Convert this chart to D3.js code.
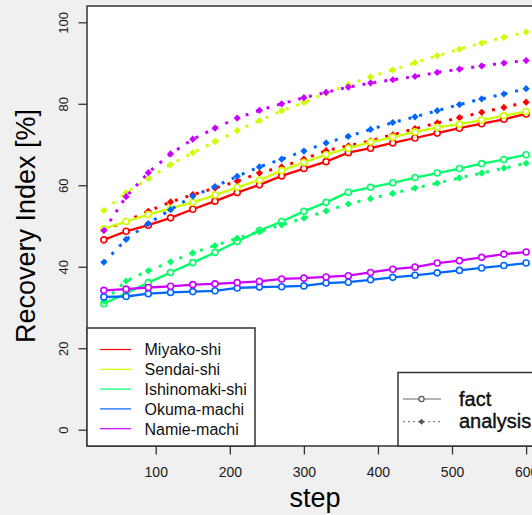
<!DOCTYPE html>
<meta charset="utf-8">
<title>Recovery Index</title>
<style>
body { margin: 0; background: #f0f0f0; }
svg { display: block; font-family: "Liberation Sans", Arial, sans-serif; }
</style>
<body>
<div id="chart"></div>
<script src="https://d3js.org/d3.v7.min.js"></script>
<script>
  var steps = [30, 60, 90, 120, 150, 180, 210, 240, 270, 300,
               330, 360, 390, 420, 450, 480, 510, 540, 570, 600];

  var cities = ["Miyako-shi", "Sendai-shi", "Ishinomaki-shi", "Okuma-machi", "Namie-machi"];
  var colors = ["#FF0000", "#CCFF00", "#00FF66", "#0066FF", "#CC00FF"];

  // fact (solid, open circles)
  var factMiyako     = [46.6, 48.7, 50.2, 52.0, 54.1, 56.1, 58.2, 60.1, 62.3, 64.1, 65.8, 68.0, 69.1, 70.4, 71.6, 72.8, 74.0, 75.1, 76.2, 77.5];
  var factSendai     = [49.3, 51.1, 52.8, 54.3, 55.8, 57.6, 59.5, 61.3, 63.6, 65.6, 67.5, 69.1, 70.6, 71.8, 73.1, 74.2, 75.0, 76.0, 77.1, 78.1];
  var factIshinomaki = [30.9, 33.5, 36.1, 38.6, 41.0, 43.5, 46.2, 48.9, 51.1, 53.6, 55.8, 58.3, 59.5, 60.6, 61.9, 63.0, 64.1, 65.3, 66.3, 67.5];
  var factOkuma      = [32.6, 32.7, 33.4, 33.7, 33.9, 34.1, 34.8, 35.0, 35.1, 35.3, 36.0, 36.2, 36.8, 37.4, 37.9, 38.5, 39.1, 39.7, 40.3, 40.9];
  var factNamie      = [34.2, 34.5, 34.9, 35.2, 35.6, 35.8, 36.1, 36.4, 37.0, 37.2, 37.5, 37.8, 38.6, 39.4, 39.9, 40.9, 41.5, 42.3, 43.1, 43.6];

  // analysis (dotted, filled diamonds)
  var anaMiyako     = [49.0, 51.2, 53.6, 55.9, 57.7, 59.3, 61.0, 63.0, 64.5, 66.4, 68.5, 69.7, 70.9, 72.4, 73.9, 75.3, 76.6, 77.9, 79.1, 80.4];
  var anaSendai     = [53.8, 58.2, 61.6, 65.1, 68.0, 70.7, 73.4, 75.9, 78.3, 80.3, 82.6, 84.7, 86.6, 88.3, 90.1, 91.8, 93.4, 94.9, 96.3, 97.6];
  var anaIshinomaki = [31.5, 36.5, 39.0, 41.2, 43.4, 45.2, 47.0, 48.6, 50.3, 51.9, 53.7, 55.4, 56.7, 58.0, 59.3, 60.5, 61.8, 63.0, 64.2, 65.4];
  var anaOkuma      = [41.1, 46.7, 50.6, 54.0, 57.3, 59.7, 62.2, 64.5, 66.4, 68.4, 70.4, 72.0, 73.7, 75.4, 76.8, 78.3, 79.8, 81.2, 82.4, 83.7];
  var anaNamie      = [48.9, 57.2, 63.1, 67.7, 71.3, 74.0, 76.5, 78.4, 80.0, 81.5, 82.8, 84.1, 85.1, 85.9, 86.7, 87.7, 88.5, 89.3, 90.0, 90.6];

  var xTicks = [100, 200, 300, 400, 500, 600];
  var yTicks = [0, 20, 40, 60, 80, 100];

  var factSeries = [factMiyako, factSendai, factIshinomaki, factOkuma, factNamie];
  var anaSeries = [anaMiyako, anaSendai, anaIshinomaki, anaOkuma, anaNamie];

  var margin = {top: 6, left: 87},
      width = 456,
      height = 440;

  var svg = d3.select("#chart").append("svg")
      .attr("width", 532)
      .attr("height", 515);

  var g = svg.append("g")
      .attr("transform", "translate(" + margin.left + "," + margin.top + ")");

  // R style 4% padding on both axes
  var x = d3.scaleLinear().domain([7.2, 622.8]).range([0, width]);
  var y = d3.scaleLinear().domain([-4, 104]).range([height, 0]);

  g.append("rect")
      .attr("width", width)
      .attr("height", height)
      .attr("fill", "#fff");

  var diamond = "M0,-3.6L3.6,0L0,3.6L-3.6,0Z";
  var smallDiamond = "M0,-3L3,0L0,3L-3,0Z";

  var line = d3.line()
      .x(function(d) { return x(d[0]); })
      .y(function(d) { return y(d[1]); });

  cities.forEach(function(c, i) {
    var fact = steps.map(function(s, j) { return [s, factSeries[i][j]]; });
    var ana = steps.map(function(s, j) { return [s, anaSeries[i][j]]; });

    g.append("path")
        .attr("d", line(fact))
        .attr("fill", "none")
        .attr("stroke", colors[i])
        .attr("stroke-width", 2.3);
    g.selectAll(null).data(fact).enter().append("circle")
        .attr("cx", function(d) { return x(d[0]); })
        .attr("cy", function(d) { return y(d[1]); })
        .attr("r", 3)
        .attr("fill", "#fff")
        .attr("stroke", colors[i])
        .attr("stroke-width", 1.6);

    g.append("path")
        .attr("d", line(ana))
        .attr("fill", "none")
        .attr("stroke", colors[i])
        .attr("stroke-width", 3)
        .attr("stroke-dasharray", "3,8");
    g.selectAll(null).data(ana).enter().append("path")
        .attr("d", diamond)
        .attr("transform", function(d) { return "translate(" + x(d[0]) + "," + y(d[1]) + ")"; })
        .attr("fill", colors[i]);
  });

  // axes
  var xAxis = g.append("g")
      .attr("transform", "translate(0," + height + ")")
      .call(d3.axisBottom(x).tickValues(xTicks).tickSize(8.5).tickSizeOuter(0));
  var yAxis = g.append("g")
      .call(d3.axisLeft(y).tickValues(yTicks).tickSize(8.5).tickSizeOuter(0));

  [xAxis, yAxis].forEach(function(a) {
    a.select(".domain").remove();
    a.selectAll("line").attr("stroke", "#333").attr("stroke-width", 1.3);
    a.selectAll("text").attr("fill", "#1a1a1a").attr("font-family", "Liberation Sans, Arial, sans-serif");
  });
  xAxis.selectAll("text")
      .attr("y", 30.5)
      .attr("dy", 0)
      .attr("font-size", 14);
  yAxis.selectAll("text")
      .attr("transform", "rotate(-90)")
      .attr("x", 0)
      .attr("y", -19.5)
      .attr("dy", 0)
      .attr("font-size", 13)
      .style("text-anchor", "middle");

  // axis titles
  svg.append("text")
      .attr("x", margin.left + width / 2)
      .attr("y", 507)
      .attr("text-anchor", "middle")
      .attr("font-size", 27)
      .attr("fill", "#000")
      .text("step");
  svg.append("text")
      .attr("transform", "translate(35," + (margin.top + height / 2) + ") rotate(-90)")
      .attr("text-anchor", "middle")
      .attr("font-size", 27)
      .attr("fill", "#000")
      .text("Recovery Index [%]");

  // legend: cities
  var leg1 = svg.append("g");
  leg1.append("rect")
      .attr("x", margin.left).attr("y", 328)
      .attr("width", 255 - margin.left).attr("height", margin.top + height - 328)
      .attr("fill", "#fff").attr("stroke", "#333").attr("stroke-width", 1.5);
  cities.forEach(function(c, i) {
    var cy = 349.5 + i * 19.8;
    leg1.append("line")
        .attr("x1", 100).attr("x2", 131)
        .attr("y1", cy).attr("y2", cy)
        .attr("stroke", colors[i]).attr("stroke-width", 1.2);
    leg1.append("text")
        .attr("x", 144.5).attr("y", cy + 5.8)
        .attr("font-size", 16)
        .attr("fill", "#111")
        .text(c);
  });

  // legend: line types
  var leg2 = svg.append("g");
  leg2.append("rect")
      .attr("x", 398).attr("y", 372.5)
      .attr("width", 200).attr("height", margin.top + height - 372.5)
      .attr("fill", "#fff").attr("stroke", "#333").attr("stroke-width", 1.5);
  [["fact", null], ["analysis", "2,3"]].forEach(function(t, i) {
    var cy = 399 + i * 22.7;
    leg2.append("line")
        .attr("x1", 403).attr("x2", 441)
        .attr("y1", cy).attr("y2", cy)
        .attr("stroke", "#666").attr("stroke-width", 1.1)
        .attr("stroke-dasharray", t[1]);
    if (i == 0) {
      leg2.append("circle")
          .attr("cx", 421.5).attr("cy", cy).attr("r", 2.6)
          .attr("fill", "#fff").attr("stroke", "#555").attr("stroke-width", 1.2);
    } else {
      leg2.append("path")
          .attr("d", smallDiamond)
          .attr("transform", "translate(421.5," + cy + ")")
          .attr("fill", "#555");
    }
    leg2.append("text")
        .attr("x", 459).attr("y", cy + 6.5)
        .attr("font-size", 20)
        .attr("fill", "#111")
        .attr("stroke", "#111")
        .attr("stroke-width", 0.4)
        .text(t[0]);
  });

  // plot frame
  g.append("rect")
      .attr("width", width)
      .attr("height", height)
      .attr("fill", "none")
      .attr("stroke", "#333")
      .attr("stroke-width", 1.5);
</script>
</body>
</html>
